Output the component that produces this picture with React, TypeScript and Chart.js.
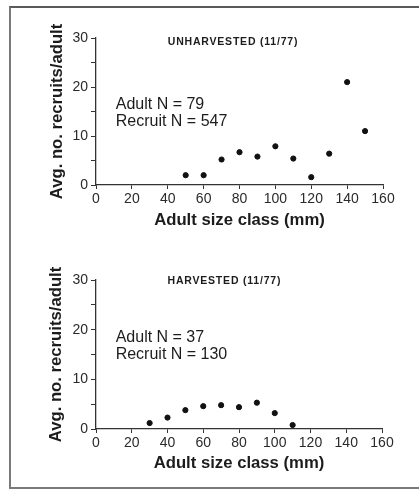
import { useEffect, useRef } from 'react';
import { Chart, registerables } from 'chart.js';

Chart.register(...registerables);

// ---- data ----
const unharvestedSizes = [50, 60, 70, 80, 90, 100, 110, 120, 130, 140, 150];
const unharvestedValues = [2.0, 2.0, 5.2, 6.7, 5.8, 7.9, 5.4, 1.6, 6.4, 21.0, 11.0];
const harvestedSizes = [30, 40, 50, 60, 70, 80, 90, 100, 110];
const harvestedValues = [1.2, 2.3, 3.8, 4.6, 4.8, 4.4, 5.3, 3.2, 0.8];
const panelTitles = ['UNHARVESTED (11/77)', 'HARVESTED (11/77)'];
const unharvestedNotes = ['Adult N = 79', 'Recruit N = 547'];
const harvestedNotes = ['Adult N = 37', 'Recruit N = 130'];
const xAxisTitle = 'Adult size class (mm)';
const yAxisTitle = 'Avg. no. recruits/adult';
const xRange = [0, 160];
const yRange = [0, 30];

const FONT = '"Liberation Sans", Arial, Helvetica, sans-serif';
const INK = '#1c1c1c';

const notesPlugin = {
  id: 'notes',
  afterDatasetsDraw(chart: any, _args: any, opts: any) {
    const { ctx } = chart;
    const x = chart.scales.x;
    const y = chart.scales.y;
    ctx.save();
    ctx.fillStyle = INK;
    ctx.textAlign = 'left';
    ctx.font = `bold 10.5px ${FONT}`;
    (ctx as any).letterSpacing = '0.8px';
    ctx.textBaseline = 'middle';
    ctx.fillText(opts.title, x.getPixelForValue(opts.titleAt[0]), y.getPixelForValue(opts.titleAt[1]));
    (ctx as any).letterSpacing = '0px';
    ctx.font = `16px ${FONT}`;
    ctx.textBaseline = 'alphabetic';
    opts.lines.forEach((t: string, i: number) => {
      ctx.fillText(t, x.getPixelForValue(opts.linesX), y.getPixelForValue(opts.linesY[i]));
    });
    ctx.restore();
  },
};

function buildConfig(
  sizes: number[],
  values: number[],
  title: string,
  notes: string[],
  lay: { top: number; right: number; xHeight: number; xTitlePad: number; yTitlePad: number; titleY: number; linesY: number[] }
): any {
  return {
    type: 'scatter',
    data: {
      datasets: [
        {
          data: sizes.map((s, i) => ({ x: s, y: values[i] })),
          backgroundColor: '#111',
          borderColor: '#111',
          pointRadius: 2.6,
          pointHoverRadius: 2.6,
        },
      ],
    },
    options: {
      animation: false,
      responsive: false,
      devicePixelRatio: 1,
      layout: { padding: { top: lay.top, right: lay.right, left: 0, bottom: 0 } },
      plugins: {
        legend: { display: false },
        tooltip: { enabled: false },
        notes: { title, titleAt: [40, lay.titleY], lines: notes, linesX: 11, linesY: lay.linesY },
      },
      scales: {
        x: {
          type: 'linear',
          min: xRange[0],
          max: xRange[1],
          afterFit: (s: any) => {
            s.height = lay.xHeight;
          },
          ticks: { stepSize: 20, color: '#2a2a2a', font: { family: FONT, size: 14 }, padding: 2, maxRotation: 0 },
          grid: { drawOnChartArea: false, drawTicks: true, tickLength: 4, color: '#333', tickWidth: 1 },
          border: { display: true, color: '#333', width: 1.3 },
          title: {
            display: true,
            text: xAxisTitle,
            color: INK,
            font: { family: FONT, size: 16.7, weight: 'bold' },
            padding: { top: 0, bottom: lay.xTitlePad },
          },
        },
        y: {
          type: 'linear',
          min: yRange[0],
          max: yRange[1],
          afterFit: (s: any) => {
            s.width = 96;
          },
          ticks: {
            stepSize: 5,
            color: '#2a2a2a',
            font: { family: FONT, size: 14 },
            padding: 3,
            callback: (v: number) => (v % 10 === 0 ? String(v) : ''),
          },
          grid: { drawOnChartArea: false, drawTicks: true, tickLength: 5, color: '#333', tickWidth: 1 },
          border: { display: true, color: '#333', width: 1.3 },
          title: {
            display: true,
            text: yAxisTitle,
            color: INK,
            font: { family: FONT, size: 16.7, weight: 'bold' },
            padding: { top: lay.yTitlePad, bottom: 0 },
          },
        },
      },
    },
    plugins: [notesPlugin],
  };
}

export default function App() {
  const topRef = useRef<HTMLCanvasElement | null>(null);
  const botRef = useRef<HTMLCanvasElement | null>(null);

  useEffect(() => {
    const c1 = new Chart(
      topRef.current!,
      buildConfig(unharvestedSizes, unharvestedValues, panelTitles[0], unharvestedNotes, {
        top: 38,
        right: 36,
        xHeight: 55,
        xTitlePad: 10,
        yTitlePad: 47,
        titleY: 29.1,
        linesY: [15.5, 12.1],
      })
    );
    const c2 = new Chart(
      botRef.current!,
      buildConfig(harvestedSizes, harvestedValues, panelTitles[1], harvestedNotes, {
        top: 35,
        right: 37,
        xHeight: 56,
        xTitlePad: 11.5,
        yTitlePad: 46,
        titleY: 29.8,
        linesY: [17.6, 14.05],
      })
    );
    return () => {
      c1.destroy();
      c2.destroy();
    };
  }, []);

  return (
    <div
      style={{
        position: 'fixed',
        left: 0,
        top: 0,
        width: 419,
        height: 489,
        overflow: 'hidden',
        background: '#fff',
      }}
    >
      <div
        style={{
          position: 'absolute',
          left: 9,
          top: 6,
          width: 440,
          height: 479,
          borderLeft: '2px solid #7a7a7a',
          borderTop: '2px solid #5a5a5a',
          borderBottom: '2px solid #7a7a7a',
        }}
      />
      <canvas ref={topRef} width={419} height={240} style={{ position: 'absolute', left: 0, top: 0 }} />
      <canvas ref={botRef} width={419} height={240} style={{ position: 'absolute', left: 0, top: 245 }} />
    </div>
  );
}
